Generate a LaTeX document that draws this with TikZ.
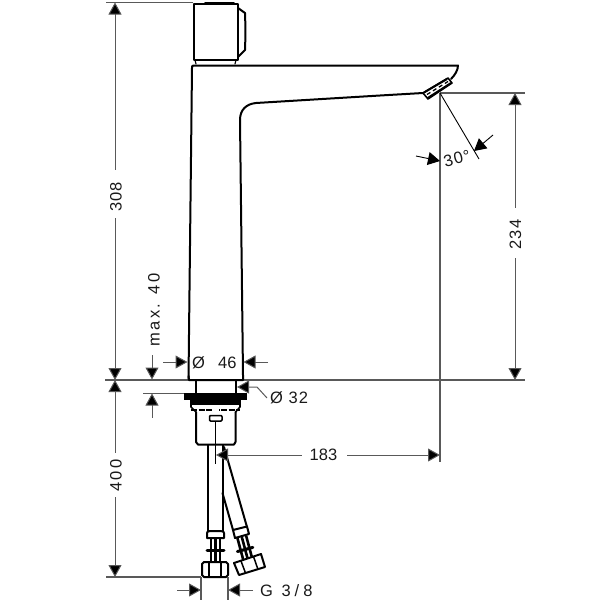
\documentclass[tikz,border=0pt]{standalone}
\usepackage{fontspec}
\setmainfont{Liberation Sans}
\newfontfamily\lsnarrow[LetterSpace=6]{Liberation Sans}
\newfontfamily\lsmid[LetterSpace=15]{Liberation Sans}
\newfontfamily\lswide[LetterSpace=24]{Liberation Sans}
\usetikzlibrary{arrows.meta}
\definecolor{dimgrey}{gray}{0.35}
\tikzset{
  x=1pt,y=-1pt,
  outline/.style={draw=black,line width=2pt,line join=round,line cap=round},
  thinline/.style={draw=black,line width=0.9pt},
  extline/.style={draw=dimgrey,line width=1.1pt},
  dimline/.style={draw=dimgrey,line width=1pt},
  tipend/.style={-{Triangle[length=12pt,width=13pt,fill=black]}},
  tipstart/.style={{Triangle[length=12pt,width=13pt,fill=black]}-},
  lbl/.style={font=\fontsize{16.5}{16.5}\selectfont,inner sep=0pt,text=black!90},
}
\begin{document}
\begin{tikzpicture}
\useasboundingbox (0,0) rectangle (600,600);
% extension lines
\draw[extline] (106,2.5) -- (193,2.5);
\draw[extline] (105,380) -- (525,380);
\draw[extline] (440,93) -- (525,93);
\draw[extline] (440,93) -- (440,462);
\draw[extline] (106,577) -- (201,577);
\draw[extline] (143,393.5) -- (185,393.5);
\draw[extline] (201,577) -- (201,600);
\draw[extline] (228,577) -- (228,600);
% cap
\draw[outline] (193.5,3.5) -- (238,3.5) -- (238,60) -- (193.5,60) -- cycle;
\draw[outline,line width=2.4pt] (205,3.5) -- (234,3.5);
\draw[outline] (238,8) -- (245,13) .. controls (245.5,25) and (245.5,38) .. (245,50) -- (238,57);
\draw[outline,line width=1.2pt] (195,60) -- (196,64) (236,60) -- (235,64);
% body
\draw[outline] (188.5,379) -- (192,68) .. controls (192,66) and (192,65.5) .. (194,65.5)
  -- (446,65.5) -- (458,65.5) .. controls (458,70) and (455,75) .. (451,79);
\draw[outline] (423,93) -- (380,95.5) -- (256,103)
  .. controls (246,104) and (240,110) .. (240,120) -- (243,375) -- (243,380) -- (189,380) -- (188.5,376);
% nozzle
\draw[outline,line width=1.6pt,fill=white] (423,93) -- (448,78) -- (452,83) -- (428,99) -- cycle;
\draw[black,line width=2pt] (424,92.5) -- (447,79) (427,98.5) -- (451,83);
\draw[black,line width=1.3pt,dash pattern=on 4pt off 3pt] (427,94.5) -- (448,81.5);
% neck and flange
\draw[outline] (196,381) -- (196,394) (235.5,381) -- (235.5,394);
\fill[black] (184,393) rectangle (247,399.5);
\draw[outline,line width=1.6pt] (191,400) -- (191,407) -- (196,412) (240,400) -- (240,407) -- (235.5,412);
\fill[black] (191,400) rectangle (240,405);
\draw[black,line width=2pt,dash pattern=on 6pt off 1.5pt] (191,410) -- (240,410);
\draw[outline] (196,412) -- (196,442) -- (198,444.5) -- (234,444.5) -- (235.5,442) -- (235.5,412);
\fill[white] (212.5,408) rectangle (218.5,412);
\draw[outline,line width=1.5pt,rounded corners=1pt] (209.5,415.5) rectangle (222,421);
\draw[thinline] (215.5,421) -- (215.5,464);
% straight hose
\draw[outline] (208,445) -- (208,531) (222.5,445) -- (222.5,531);
\draw[outline] (207,538) -- (207,533) .. controls (207,531) and (210,531) .. (215,531) .. controls (221,531) and (224,531) .. (224,533) -- (224,538) -- cycle;
\draw[black,line width=2.6pt] (211,538) -- (211,562) (215.5,538) -- (215.5,562) (220,538) -- (220,562);
\draw[black,line width=3pt,line cap=round] (207,550) -- (224,550);
\draw[outline] (204,562) -- (226,562) -- (228,564) -- (228,575) -- (226,577) -- (204,577) -- (202,575) -- (202,564) -- cycle;
\draw[black,line width=1.5pt] (209,562) -- (209,577) (221,562) -- (221,577);
% angled hose
\draw[outline] (224,447) -- (247,527);
\draw[outline] (222.5,493) -- (233,530);
\draw[outline,fill=white] (233,530) -- (247,526.5) -- (249,534) -- (235,538) -- cycle;
\begin{scope}[shift={(241,534)},rotate=15]
  \draw[black,line width=2.6pt] (-4.5,3) -- (-4.5,26) (0,3) -- (0,26) (4.5,3) -- (4.5,26);
  \draw[black,line width=3pt,line cap=round] (-8,16) -- (8,16);
\end{scope}
\draw[outline,fill=white] (234,563) -- (261,554) -- (265,567) -- (239,575) -- cycle;
\draw[black,line width=1.5pt] (241,561) -- (245.5,573) (253.5,556.5) -- (258,569.5);
% dimension 308
\coordinate (d308top) at (115,2.5);
\coordinate (d308a) at (115,170);
\coordinate (d308b) at (115,218);
\coordinate (d308bot) at (115,380);
\draw[dimline,tipstart] (d308top) -- (d308a);
\draw[dimline,tipend] (d308b) -- (d308bot);
\node[lbl,rotate=90,font=\fontsize{16.5}{16.5}\lsnarrow] (t308) at (116,197) {308};
% dimension 400
\coordinate (d400top) at (115,380);
\coordinate (d400a) at (115,453);
\coordinate (d400b) at (115,497);
\coordinate (d400bot) at (115,577);
\draw[dimline,tipstart] (d400top) -- (d400a);
\draw[dimline,tipend] (d400b) -- (d400bot);
\node[lbl,rotate=90,font=\fontsize{16.5}{16.5}\lsmid] (t400) at (116,475.5) {400};
% dimension max 40
\coordinate (dm1) at (152,355);
\coordinate (dm2) at (152,379.5);
\coordinate (dm3) at (152,393.5);
\coordinate (dm4) at (152,418);
\draw[dimline,tipend] (dm1) -- (dm2);
\draw[dimline,tipstart] (dm3) -- (dm4);
\node[lbl,rotate=90,font=\fontsize{16.5}{16.5}\lsmid] (tmax) at (154,310) {max. 40};
% dimension 46
\coordinate (d46a) at (163,362);
\coordinate (d46b) at (187.5,362);
\coordinate (d46c) at (243.5,362);
\coordinate (d46d) at (268,362);
\draw[dimline,tipend] (d46a) -- (d46b);
\draw[dimline,tipend] (d46d) -- (d46c);
\node[lbl,anchor=west] (t46o) at (192,362.5) {Ø};
\node[lbl,anchor=west] (t46) at (218,362.5) {46};
% dimension 32
\coordinate (d32tip) at (237,387);
\coordinate (d32knee) at (257,387);
\coordinate (d32end) at (267,398);
\draw[dimline,tipstart] (d32tip) -- (d32knee) -- (d32end);
\node[lbl,anchor=west,font=\fontsize{16.5}{16.5}\lsnarrow] (t32) at (270,398) {Ø 32};
% dimension 234
\coordinate (d234top) at (515,93);
\coordinate (d234a) at (515,208);
\coordinate (d234b) at (515,258);
\coordinate (d234bot) at (515,380);
\draw[dimline,tipstart] (d234top) -- (d234a);
\draw[dimline,tipend] (d234b) -- (d234bot);
\node[lbl,rotate=90,font=\fontsize{16.5}{16.5}\lsnarrow] (t234) at (515.5,234.5) {234};
% dimension 183
\coordinate (d183tip) at (216,455);
\coordinate (d183a) at (302,455);
\coordinate (d183b) at (347,455);
\coordinate (d183end) at (440,455);
\draw[dimline,tipstart] (d183tip) -- (d183a);
\draw[dimline,tipend] (d183b) -- (d183end);
\node[lbl] (t183) at (323.5,455) {183};
% G 3/8
\coordinate (dga) at (177,590);
\coordinate (dgb) at (201,590);
\coordinate (dgc) at (228,590);
\coordinate (dgd) at (253,590);
\draw[dimline,tipend] (dga) -- (dgb);
\draw[dimline,tipend] (dgd) -- (dgc);
\node[lbl,anchor=west,font=\fontsize{16.5}{16.5}\lswide] (tg) at (260,590.5) {G 3/8};
% angle 30
\coordinate (a1) at (440,93);
\coordinate (a2) at (479,159);
\coordinate (a3) at (493,135);
\coordinate (a4) at (474,151);
\coordinate (a5) at (416,156);
\coordinate (a6) at (440,161);
\draw[thinline] (a1) -- (a2);
\draw[thinline,tipend] (a3) -- (a4);
\draw[thinline,tipend] (a5) -- (a6);
\node[lbl,rotate=15,font=\fontsize{16.5}{16.5}\lsnarrow] (t30) at (457,158.5) {30°};
\end{tikzpicture}
\end{document}
